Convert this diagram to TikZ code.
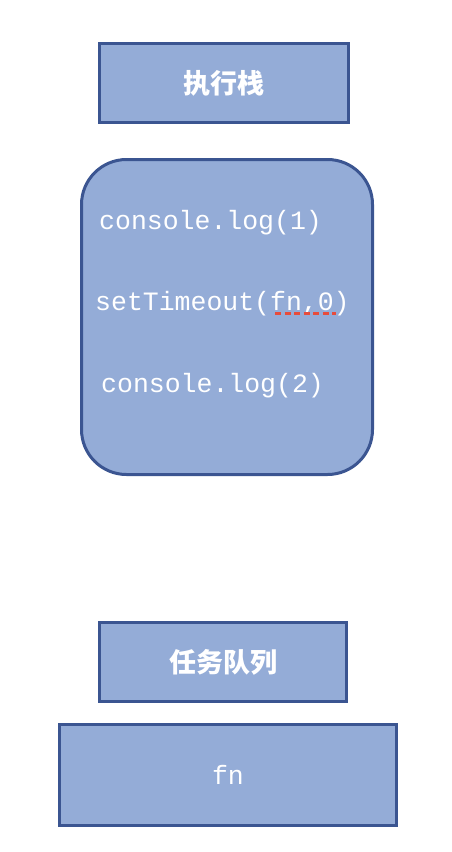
\documentclass[tikz,border=0pt]{standalone}
\usepackage{fontspec}
\usepackage{xcolor}
\usepackage{tikz}
\usetikzlibrary{positioning}
\setmonofont{Liberation Mono}
\newfontfamily\cjk{Noto Sans CJK SC}
\definecolor{boxfill}{RGB}{148,172,215}
\definecolor{boxline}{RGB}{59,85,145}
\definecolor{squig}{RGB}{231,76,60}

\begin{document}
\begin{tikzpicture}[x=1pt, y=-1pt,
        box/.style={draw=boxline, fill=boxfill, line width=3pt, inner sep=0pt},
        title/.style={text=white, font=\cjk\bfseries\fontsize{27}{30}\selectfont},
        code/.style={text=white, font=\ttfamily\fontsize{26.5}{30}\selectfont, inner sep=0pt, anchor=base west}]
        \useasboundingbox (0,0) rectangle (452,852);

        % Execution stack
        \node[box, title, minimum width=249pt, minimum height=79pt] (stack) at (224,83) {执行栈};
        \node[box, rounded corners=45pt, minimum width=291pt, minimum height=315pt] (frame) at (227,317) {};

        % Calls on the stack
        \node[code] (log1) at (99,229) {console.log(1)};
        \node[code] (timer) at (95,310) {setTimeout(fn,0)};
        \node[code] (log2) at (101,392) {console.log(2)};
        \draw[squig, line width=3pt, dash pattern=on 6pt off 3.5pt] (275,313) -- (336,313); % spell mark

        % Task queue
        \node[box, title, minimum width=247pt, minimum height=79pt] (queue) at (223,662) {任务队列};
        \node[box, text=white, font=\ttfamily\fontsize{26.5}{30}\selectfont, minimum width=337pt, minimum height=101pt] (task) at (228,775) {fn};
\end{tikzpicture}
\end{document}
